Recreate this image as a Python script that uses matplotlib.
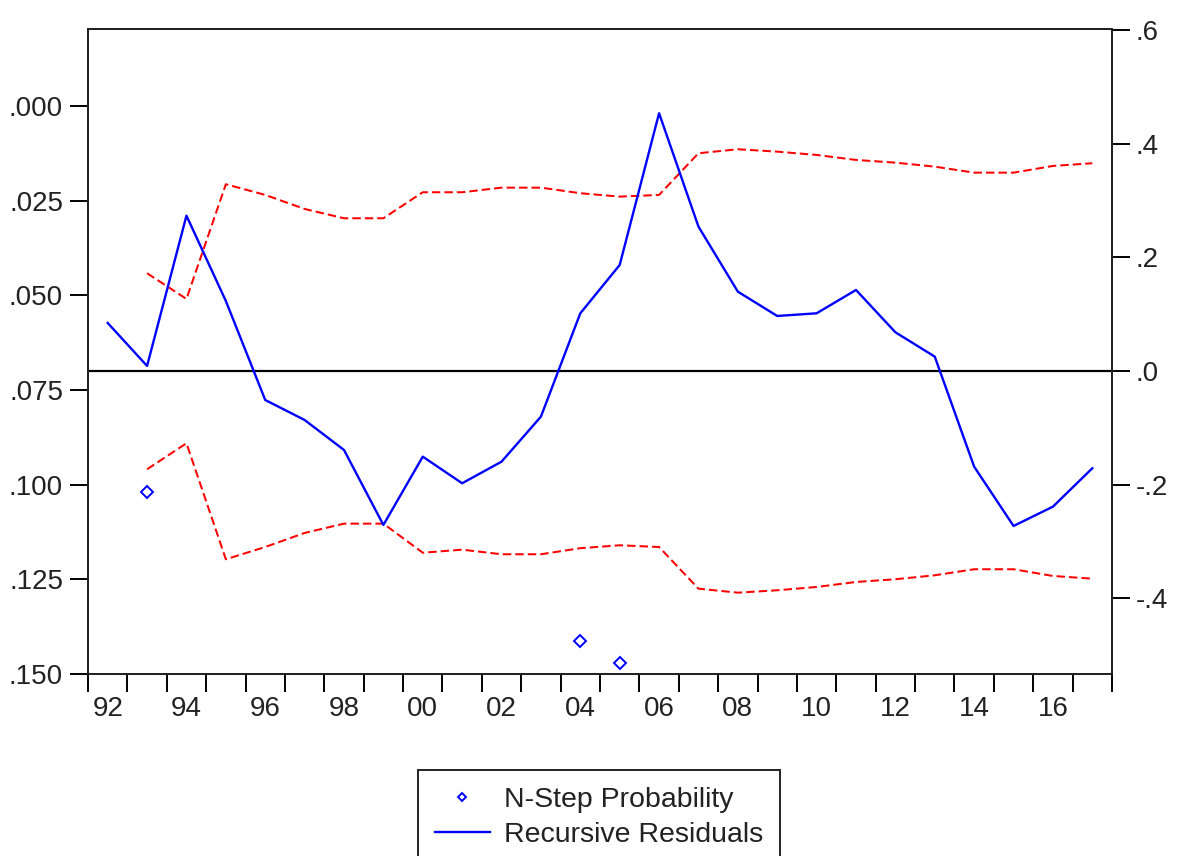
import matplotlib
matplotlib.use("Agg")
import matplotlib.pyplot as plt
from matplotlib.ticker import FixedLocator, FixedFormatter

plt.rcParams['font.family'] = ['Liberation Sans', 'DejaVu Sans']

years = list(range(1992, 2018))
recursive_residuals = [0.0845, 0.0088, 0.2734, 0.1232, -0.0511, -0.0863, -0.1391, -0.2711,
                       -0.1509, -0.1977, -0.1597, -0.0804, 0.1015, 0.1866, 0.4537, 0.2541,
                       0.1396, 0.0968, 0.1015, 0.1426, 0.0681, 0.0252, -0.1685, -0.2729,
                       -0.2389, -0.1713]
band_years = list(range(1993, 2018))
upper_band = [0.1720, 0.1268, 0.3287, 0.3099, 0.2852, 0.2688, 0.2688, 0.3146, 0.3146,
              0.3227, 0.3227, 0.3129, 0.3069, 0.3099, 0.3833, 0.3903, 0.3861, 0.3803,
              0.3715, 0.3667, 0.3597, 0.3491, 0.3491, 0.3609, 0.3657]
lower_band = [-0.1731, -0.1273, -0.3315, -0.3099, -0.2852, -0.2688, -0.2688, -0.3200, -0.3146,
              -0.3227, -0.3227, -0.3120, -0.3069, -0.3099, -0.3833, -0.3903, -0.3861, -0.3803,
              -0.3715, -0.3667, -0.3597, -0.3491, -0.3491, -0.3609, -0.3657]
prob_years = [1993, 2004, 2005]
nstep_prob = [0.1018, 0.1413, 0.1470]

left_ticks = [0.000, 0.025, 0.050, 0.075, 0.100, 0.125, 0.150]
left_labels = ['.000', '.025', '.050', '.075', '.100', '.125', '.150']
right_ticks = [0.6, 0.4, 0.2, 0.0, -0.2, -0.4]
right_labels = ['.6', '.4', '.2', '.0', '-.2', '-.4']
xlabel_years = list(range(1992, 2018, 2))
xlabels = ['%02d' % (y % 100) for y in xlabel_years]

W, H = 1177, 856
fig = plt.figure(figsize=(W / 100, H / 100), dpi=100)
ax = fig.add_axes([88 / W, 1 - 674 / H, (1112 - 88) / W, (674 - 29) / H])
ax2 = ax.twinx()

FS = 20
LW = 1.4
blue = '#0000ff'
red = '#ff0000'

# Right axis: residuals and bands
ax2.axhline(0, color='black', lw=1.6, zorder=1)
ax2.plot([y + 0.5 for y in band_years], upper_band, color=red, lw=1.45,
         linestyle=(0, (4.2, 2.0)), zorder=2)
ax2.plot([y + 0.5 for y in band_years], lower_band, color=red, lw=1.45,
         linestyle=(0, (4.2, 2.0)), zorder=2)
line, = ax2.plot([y + 0.5 for y in years], recursive_residuals, color=blue, lw=1.7, zorder=3,
                 label='Recursive Residuals')
ax2.set_ylim(-0.5335, 0.602)
ax2.yaxis.set_major_locator(FixedLocator(right_ticks))
ax2.yaxis.set_major_formatter(FixedFormatter(right_labels))

# Left axis: probabilities (inverted)
pts, = ax.plot([y + 0.5 for y in prob_years], nstep_prob, linestyle='none', marker='D',
               markersize=6, markerfacecolor='none', markeredgecolor=blue, markeredgewidth=1.4,
               label='N-Step Probability')
ax.set_ylim(0.150, -0.0204)
ax.yaxis.set_major_locator(FixedLocator(left_ticks))
ax.yaxis.set_major_formatter(FixedFormatter(left_labels))

ax.set_xlim(1992, 2018)
ax.xaxis.set_major_locator(FixedLocator(list(range(1992, 2019))))
ax.xaxis.set_major_formatter(FixedFormatter([''] * 27))
ax.xaxis.set_minor_locator(FixedLocator([y + 0.5 for y in xlabel_years]))
ax.xaxis.set_minor_formatter(FixedFormatter(xlabels))
ax.tick_params(axis='x', which='major', direction='out', length=13, width=LW, color='black')
ax.tick_params(axis='x', which='minor', length=0, pad=16, labelsize=FS, labelcolor='#222222')
ax.tick_params(axis='y', direction='out', length=13, width=LW, pad=5, labelsize=FS,
               labelcolor='#222222')
ax2.tick_params(axis='y', direction='out', length=13, width=LW, pad=4, labelsize=FS,
                labelcolor='#222222')

for a in (ax, ax2):
    for s in a.spines.values():
        s.set_linewidth(LW)
        s.set_color('#222222')

leg = fig.legend(handles=[pts, line], loc='upper left',
                 bbox_to_anchor=(418 / W, 1 - 770 / H), fontsize=20.5,
                 frameon=True, fancybox=False, edgecolor='#222222', framealpha=1,
                 handlelength=1.95, handletextpad=0.5, borderpad=0.58, labelspacing=0.32,
                 borderaxespad=0, markerscale=0.75)
leg.get_frame().set_linewidth(LW)
for t in leg.get_texts():
    t.set_color('#222222')

fig.savefig('out.png', dpi=100)
